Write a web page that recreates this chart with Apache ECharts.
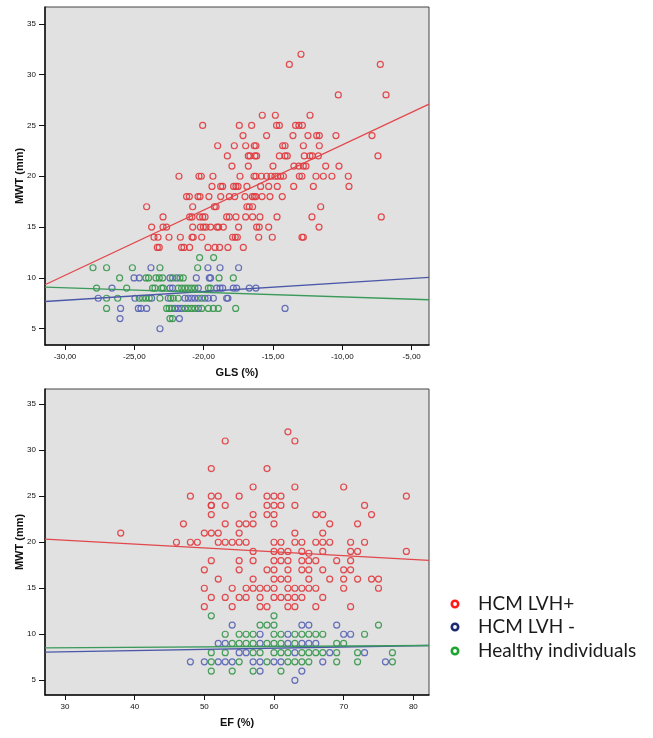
<!DOCTYPE html>
<html>
<head>
<meta charset="utf-8">
<script src="https://cdn.jsdelivr.net/npm/echarts@6/dist/echarts.min.js"></script>
<style>
html,body{margin:0;padding:0;background:#fff;}
#c{width:653px;height:738px;}
</style>
</head>
<body>
<div id="c"></div>
<script>
// ---------- DATA ----------
var seriesNames = ['HCM LVH+', 'HCM LVH -', 'Healthy individuals'];
var glsTicks = [-30, -25, -20, -15, -10, -5];
var efTicks = [30, 40, 50, 60, 70, 80];
var mwtTicks = [5, 10, 15, 20, 25, 30, 35];

// Top panel: GLS (%) vs MWT (mm)
var glsRed = [
 [-12.98,32],[-13.82,31],[-7.26,31],[-10.29,28],[-6.85,28],
 [-15.77,26],[-14.83,26],[-12.33,26],
 [-20.07,25],[-17.43,25],[-16.54,25],[-14.74,25],[-14.54,25],[-13.37,25],[-13.13,25],[-12.88,25],
 [-17.16,24],[-15.46,24],[-13.56,24],[-12.48,24],[-11.85,24],[-11.66,24],[-10.46,24],[-7.86,24],
 [-18.99,23],[-17.79,23],[-16.97,23],[-16.35,23],[-16.23,23],[-14.30,23],[-14.13,23],[-12.81,23],[-11.66,23],
 [-18.29,22],[-16.78,22],[-16.66,22],[-16.30,22],[-16.18,22],[-14.54,22],[-14.13,22],[-13.97,22],[-12.74,22],[-12.33,22],[-12.16,22],[-11.73,22],[-7.43,22],
 [-17.96,21],[-16.78,21],[-15.00,21],[-13.49,21],[-13.13,21],[-12.81,21],[-12.62,21],[-11.20,21],[-10.24,21],
 [-21.78,20],[-20.34,20],[-20.17,20],[-19.33,20],[-17.38,20],[-16.37,20],[-16.23,20],[-15.84,20],[-15.46,20],[-15.14,20],[-14.86,20],[-14.66,20],[-14.45,20],[-14.25,20],[-13.10,20],[-12.91,20],[-11.90,20],[-11.37,20],[-10.75,20],[-9.57,20],
 [-19.40,19],[-18.77,19],[-18.63,19],[-17.84,19],[-17.67,19],[-17.52,19],[-16.88,19],[-15.89,19],[-15.31,19],[-14.69,19],[-13.51,19],[-12.09,19],[-9.52,19],
 [-21.23,18],[-21.03,18],[-20.41,18],[-20.26,18],[-19.62,18],[-18.77,18],[-18.15,18],[-17.76,18],[-17.02,18],[-16.49,18],[-16.35,18],[-16.23,18],[-15.79,18],[-15.22,18],[-14.33,18],
 [-24.11,17],[-20.79,17],[-19.23,17],[-19.11,17],[-16.88,17],[-16.71,17],[-16.47,17],[-11.56,17],
 [-22.93,16],[-21.01,16],[-20.84,16],[-20.29,16],[-20.07,16],[-19.90,16],[-18.34,16],[-18.15,16],[-17.67,16],[-16.97,16],[-16.47,16],[-15.94,16],[-14.71,16],[-12.19,16],[-7.19,16],
 [-23.75,15],[-22.93,15],[-22.67,15],[-20.79,15],[-20.24,15],[-20.02,15],[-19.83,15],[-19.50,15],[-19.04,15],[-18.92,15],[-18.58,15],[-17.48,15],[-16.18,15],[-15.99,15],[-15.31,15],[-11.68,15],
 [-23.58,14],[-23.29,14],[-22.50,14],[-21.68,14],[-20.84,14],[-20.75,14],[-20.14,14],[-17.91,14],[-17.72,14],[-17.57,14],[-16.03,14],[-15.05,14],[-12.91,14],[-12.81,14],
 [-23.34,13],[-23.20,13],[-21.59,13],[-21.42,13],[-21.01,13],[-19.69,13],[-19.18,13],[-18.85,13],[-18.25,13],[-17.14,13]
];
var glsBlue = [
 [-23.80,11],[-19.69,11],[-18.82,11],[-17.48,11],
 [-25.02,10],[-24.64,10],[-22.43,10],[-21.95,10],[-20.53,10],[-19.59,10],[-19.50,10],
 [-26.61,9],[-22.43,9],[-22.24,9],[-20.38,9],[-19.06,9],[-18.82,9],[-18.63,9],[-17.86,9],[-17.62,9],[-16.71,9],[-16.23,9],
 [-27.60,8],[-24.95,8],[-23.75,8],[-22.55,8],[-21.35,8],[-21.11,8],[-20.87,8],[-20.63,8],[-20.38,8],[-19.90,8],[-19.66,8],[-19.30,8],[-18.34,8],[-18.25,8],
 [-25.99,7],[-24.71,7],[-24.52,7],[-24.11,7],[-22.07,7],[-21.83,7],[-21.59,7],[-20.38,7],[-14.13,7],
 [-26.03,6],[-21.75,6],
 [-23.15,5]
];
var glsGreen = [
 [-20.29,12],[-19.28,12],
 [-27.98,11],[-27.00,11],[-25.14,11],[-23.15,11],[-20.43,11],
 [-26.06,10],[-24.16,10],[-23.97,10],[-23.44,10],[-23.20,10],[-22.96,10],[-22.24,10],[-21.71,10],[-21.47,10],[-18.89,10],[-17.86,10],
 [-27.72,9],[-25.55,9],[-23.68,9],[-23.51,9],[-23.03,9],[-22.91,9],[-21.83,9],[-21.59,9],[-21.35,9],[-21.11,9],[-20.87,9],[-20.63,9],[-19.66,9],[-19.50,9],
 [-27.00,8],[-26.20,8],[-24.64,8],[-24.40,8],[-24.16,8],[-23.92,8],[-23.15,8],[-22.38,8],[-22.19,8],[-21.83,8],[-20.14,8],
 [-27.00,7],[-22.67,7],[-22.48,7],[-22.31,7],[-21.35,7],[-21.11,7],[-20.87,7],[-20.63,7],[-20.14,7],[-19.66,7],[-19.30,7],[-18.94,7],[-17.69,7],
 [-22.43,6],[-22.24,6]
];
// fit lines (endpoints read at the plot edges)
var glsFitRed = [[-31.44,9.33],[-3.75,27.1]];
var glsFitBlue = [[-31.44,7.68],[-3.75,10.05]];
var glsFitGreen = [[-31.44,9.09],[-3.75,7.85]];

// Bottom panel: EF (%) vs MWT (mm)
var efRed = [
 [62,32],[53,31],[63,31],[51,28],[59,28],[57,26],[63,26],[70,26],
 [48,25],[51,25],[52,25],[55,25],[59,25],[60,25],[61,25],[79,25],
 [51,24],[51,24],[53,24],[59,24],[60,24],[61,24],[63,24],[73,24],
 [51,23],[57,23],[59,23],[60,23],[66,23],[67,23],[74,23],
 [47,22],[53,22],[55,22],[56,22],[57,22],[60,22],[68,22],[72,22],
 [38,21],[50,21],[51,21],[52,21],[55,21],[63,21],[67,21],
 [46,20],[48,20],[49,20],[52,20],[53,20],[54,20],[55,20],[56,20],[60,20],[61,20],[63,20],[64,20],[66,20],[67,20],[68,20],[71,20],[73,20],
 [57,19],[60,19],[61,19],[62,19],[64,19],[65,18.8],[67,19],[71,19],[72,19],[79,19],
 [51,18],[55,18],[57,18],[60,18],[61,18],[62,18],[64,18],[65,18],[66,18],[69,18],[71,18],
 [50,17],[55,17],[59,17],[60,17],[62,17],[64,17],[65,17],[67,17],[70,17],[71,17],
 [52,16],[57,16],[60,16],[61,16],[62,16],[65,16],[68,16],[70,16],[72,16],[74,16],[75,16],
 [50,15],[54,15],[56,15],[57,15],[58,15],[59,15],[60,15],[62,15],[63,15],[64,15],[65,15],[66,15],[70,15],[75,15],
 [51,14],[53,14],[55,14],[56,14],[58,14],[60,14],[61,14],[62,14],[63,14],[64,14],[67,14],
 [50,13],[54,13],[58,13],[59,13],[62,13],[63,13],[66,13],[71,13]
];
var efBlue = [
 [54,11],[64,11],[65,11],[69,11],
 [58,10],[62,10],[70,10],[71,10],
 [52,9],[53,9],[58,9],[62,9],[64,9],[65,9],[66,9],
 [55,8],[56,8],[63,8],[68,8],[73,8],
 [48,7],[50,7],[52,7],[53,7],[54,7],[57,7],[58,7],[60,7],[61,7],[67,7],[76,7],
 [58,6],[64,6],
 [63,5]
];
var efGreen = [
 [51,12],[60,12],
 [58,11],[59,11],[60,11],[75,11],
 [53,10],[55,10],[56,10],[57,10],[60,10],[61,10],[63,10],[64,10],[65,10],[66,10],[67,10],[73,10],
 [54,9],[55,9],[56,9],[57,9],[59,9],[60,9],[61,9],[63,9],[69,9],[70,9],
 [51,8],[53,8],[57,8],[58,8],[60,8],[61,8],[62,8],[64,8],[65,8],[66,8],[67,8],[69,8],[72,8],[77,8],
 [51,7],[55,7],[59,7],[62,7],[63,7],[64,7],[65,7],[69,7],[72,7],[77,7],
 [51,6],[54,6],[57,6],[61,6]
];
var efFitRed = [[27.13,20.34],[82.25,18.02]];
var efFitBlue = [[27.13,8.05],[82.25,8.78]];
var efFitGreen = [[27.13,8.53],[82.25,8.78]];

// ---------- STYLE ----------
var markerColors = ['#e0383d', '#5560b4', '#35964a'];
var lineColors = ['#e2474b', '#4b58a8', '#3a9a5a'];
var legendColors = ['#ff1a1a', '#1b2a72', '#1ea32e'];

function xAxis(gi, min, max, ticks, name, fmt) {
  return {
    type: 'value', gridIndex: gi, min: min, max: max,
    name: name, nameLocation: 'middle', nameGap: 22,
    nameTextStyle: {fontFamily: 'Liberation Sans', fontWeight: 'bold', fontSize: 11, color: '#111'},
    axisLine: {show: true, onZero: false, lineStyle: {color: '#111', width: 1.5}},
    axisTick: {show: true, length: 5, customValues: ticks, lineStyle: {color: '#111'}},
    axisLabel: {customValues: ticks, margin: 8, fontFamily: 'Liberation Sans', fontSize: 8, color: '#111', formatter: fmt},
    splitLine: {show: false}
  };
}
function yAxis(gi) {
  return {
    type: 'value', gridIndex: gi, min: 3.4, max: 36.65,
    name: 'MWT (mm)', nameLocation: 'middle', nameGap: 20, nameMoveOverlap: false,
    nameTextStyle: {fontFamily: 'Liberation Sans', fontWeight: 'bold', fontSize: 11, color: '#111'},
    axisLine: {show: true, onZero: false, lineStyle: {color: '#111', width: 1.5}},
    axisTick: {show: true, length: 6, customValues: mwtTicks, lineStyle: {color: '#111'}},
    axisLabel: {customValues: mwtTicks, margin: 9, fontFamily: 'Liberation Sans', fontSize: 8, color: '#111'},
    splitLine: {show: false}
  };
}
function scatter(i, gi, data) {
  return {
    type: 'scatter', name: seriesNames[i], xAxisIndex: gi, yAxisIndex: gi,
    data: data, symbol: 'circle', symbolSize: 6,
    itemStyle: {color: 'transparent', borderColor: markerColors[i], borderWidth: 1.2, opacity: 0.9},
    z: 3
  };
}
function fit(i, gi, data) {
  return {
    type: 'line', name: seriesNames[i], xAxisIndex: gi, yAxisIndex: gi,
    data: data, symbol: 'none', lineStyle: {color: lineColors[i], width: 1.3},
    z: 4
  };
}
var glsFmt = function (v) { return v.toFixed(2).replace('.', ','); };
var efFmt = function (v) { return String(v); };

var legendGraphics = [];
var legendY = [604, 627, 651];
for (var k = 0; k < 3; k++) {
  legendGraphics.push({
    type: 'circle', shape: {cx: 455, cy: legendY[k], r: 3.2},
    style: {fill: 'none', stroke: legendColors[k], lineWidth: 2.6}
  });
  legendGraphics.push({
    type: 'text', x: 478, y: legendY[k],
    style: {text: seriesNames[k], fill: '#1a1a1a', font: '19px Lato', textVerticalAlign: 'middle', verticalAlign: 'middle'}
  });
}

var chart = echarts.init(document.getElementById('c'), null, {renderer: 'canvas'});
chart.setOption({
  animation: false,
  backgroundColor: '#ffffff',
  grid: [
    {left: 45, top: 7, width: 384, height: 338, show: true, backgroundColor: '#e1e1e1', borderColor: '#444', borderWidth: 1},
    {left: 45, top: 389, width: 384, height: 306, show: true, backgroundColor: '#e1e1e1', borderColor: '#444', borderWidth: 1}
  ],
  xAxis: [
    xAxis(0, -31.44, -3.75, glsTicks, 'GLS (%)', glsFmt),
    xAxis(1, 27.13, 82.25, efTicks, 'EF (%)', efFmt)
  ],
  yAxis: [yAxis(0), yAxis(1)],
  series: [
    scatter(0, 0, glsRed), scatter(1, 0, glsBlue), scatter(2, 0, glsGreen),
    fit(0, 0, glsFitRed), fit(1, 0, glsFitBlue), fit(2, 0, glsFitGreen),
    scatter(0, 1, efRed), scatter(1, 1, efBlue), scatter(2, 1, efGreen),
    fit(0, 1, efFitRed), fit(1, 1, efFitBlue), fit(2, 1, efFitGreen)
  ],
  graphic: legendGraphics
});
</script>
</body>
</html>
